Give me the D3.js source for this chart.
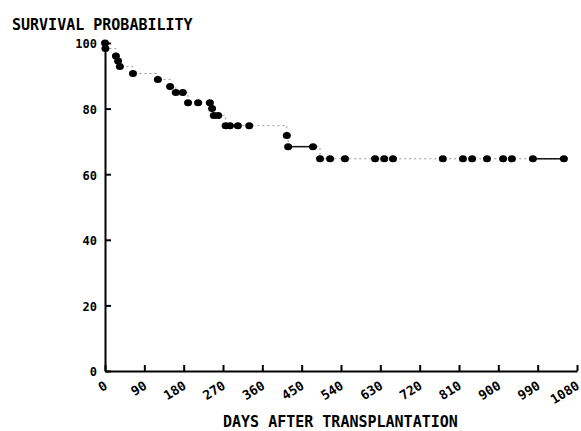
<!doctype html>
<html lang="en-US">
<head>
    <meta charset="UTF-8">
    <title>Survival probability</title>
    <script src="https://d3js.org/d3.v7.js" charset="utf-8"></script>
    <style>
        body { margin: 0; background: #fff; }
        svg text { font-family: "DejaVu Sans Mono", monospace; font-weight: bold; fill: #000; }
    </style>
</head>
<body>
    <svg id="cvas" width="581" height="431"></svg>
    <script>
        // ---- data ---- //
        const days = [0, 1, 25, 30, 34, 64, 121, 149, 162, 178, 190, 213, 240, 245, 249, 259,
            276, 286, 304, 330, 416, 419, 476, 492, 515, 549, 618, 639, 659,
            773, 819, 840, 874, 911, 931, 979, 1050];
        const survival = [100, 98.3, 96, 94.5, 92.8, 90.7, 88.9, 86.7, 84.9, 84.9, 81.8, 81.8, 81.8, 80, 77.9, 77.9,
            74.8, 74.8, 74.8, 74.8, 71.8, 68.4, 68.4, 64.7, 64.7, 64.7, 64.7, 64.7, 64.7,
            64.7, 64.7, 64.7, 64.7, 64.7, 64.7, 64.7, 64.7];
        // stretches drawn as solid lines (start day, end day)
        const solid_from = [419, 979];
        const solid_to = [476, 1050];

        const x_ticks = [0, 90, 180, 270, 360, 450, 540, 630, 720, 810, 900, 990, 1080];
        const y_ticks = [0, 20, 40, 60, 80, 100];

        const svg = d3.select("#cvas");

        const x_scale = d3.scaleLinear().domain([0, 1080]).range([105, 577]);
        const y_scale = d3.scaleLinear().domain([0, 100]).range([371, 43]);

        // axes
        svg.append("g")
            .attr("transform", `translate(${x_scale(0)},0)`)
            .call(d3.axisLeft(y_scale).tickValues(y_ticks).tickSizeInner(-6).tickSizeOuter(0).tickPadding(8))
            .call(g => g.selectAll("path, line").style("stroke", "#000").style("stroke-width", 2))
            .call(g => g.selectAll("text").style("font-size", "12px").attr("dy", "0.4em"));

        svg.append("g")
            .attr("transform", `translate(0,${y_scale(0)})`)
            .call(d3.axisBottom(x_scale).tickValues(x_ticks).tickFormat(d3.format("d"))
                .tickSizeInner(-6).tickSizeOuter(0))
            .call(g => g.selectAll("path, line").style("stroke", "#000").style("stroke-width", 2))
            .call(g => g.selectAll("text")
                .style("font-size", "13px")
                .attr("y", 0).attr("dy", 0)
                .attr("text-anchor", "end")
                .attr("transform", "translate(3,17) rotate(-32)"));

        // step curve, faint dotted
        const pts = days.map((d, i) => [d, survival[i]]);
        const step_line = d3.line()
            .x(d => x_scale(d[0]))
            .y(d => y_scale(d[1]))
            .curve(d3.curveStepAfter);

        svg.append("path")
            .attr("d", step_line(pts))
            .style("fill", "none")
            .style("stroke", "#999")
            .style("stroke-width", 1)
            .style("stroke-dasharray", "2,3");

        // solid stretches
        svg.selectAll(".solid").data(solid_from)
            .enter().append("line").attr("class", "solid")
            .attr("x1", d => x_scale(d))
            .attr("x2", (d, i) => x_scale(solid_to[i]))
            .attr("y1", d => y_scale(survival[days.indexOf(d)]))
            .attr("y2", d => y_scale(survival[days.indexOf(d)]))
            .style("stroke", "#111")
            .style("stroke-width", 1.5);

        // dots
        svg.selectAll(".dot").data(pts)
            .enter().append("ellipse").attr("class", "dot")
            .attr("cx", d => x_scale(d[0]))
            .attr("cy", d => y_scale(d[1]))
            .attr("rx", 4)
            .attr("ry", 3.5)
            .style("fill", "#000");

        // titles
        svg.append("text")
            .attr("x", 12).attr("y", 30)
            .style("font-size", "15px")
            .text("SURVIVAL PROBABILITY");

        svg.append("text")
            .attr("x", 223).attr("y", 427)
            .style("font-size", "15px")
            .text("DAYS AFTER TRANSPLANTATION");
    </script>
</body>
</html>
